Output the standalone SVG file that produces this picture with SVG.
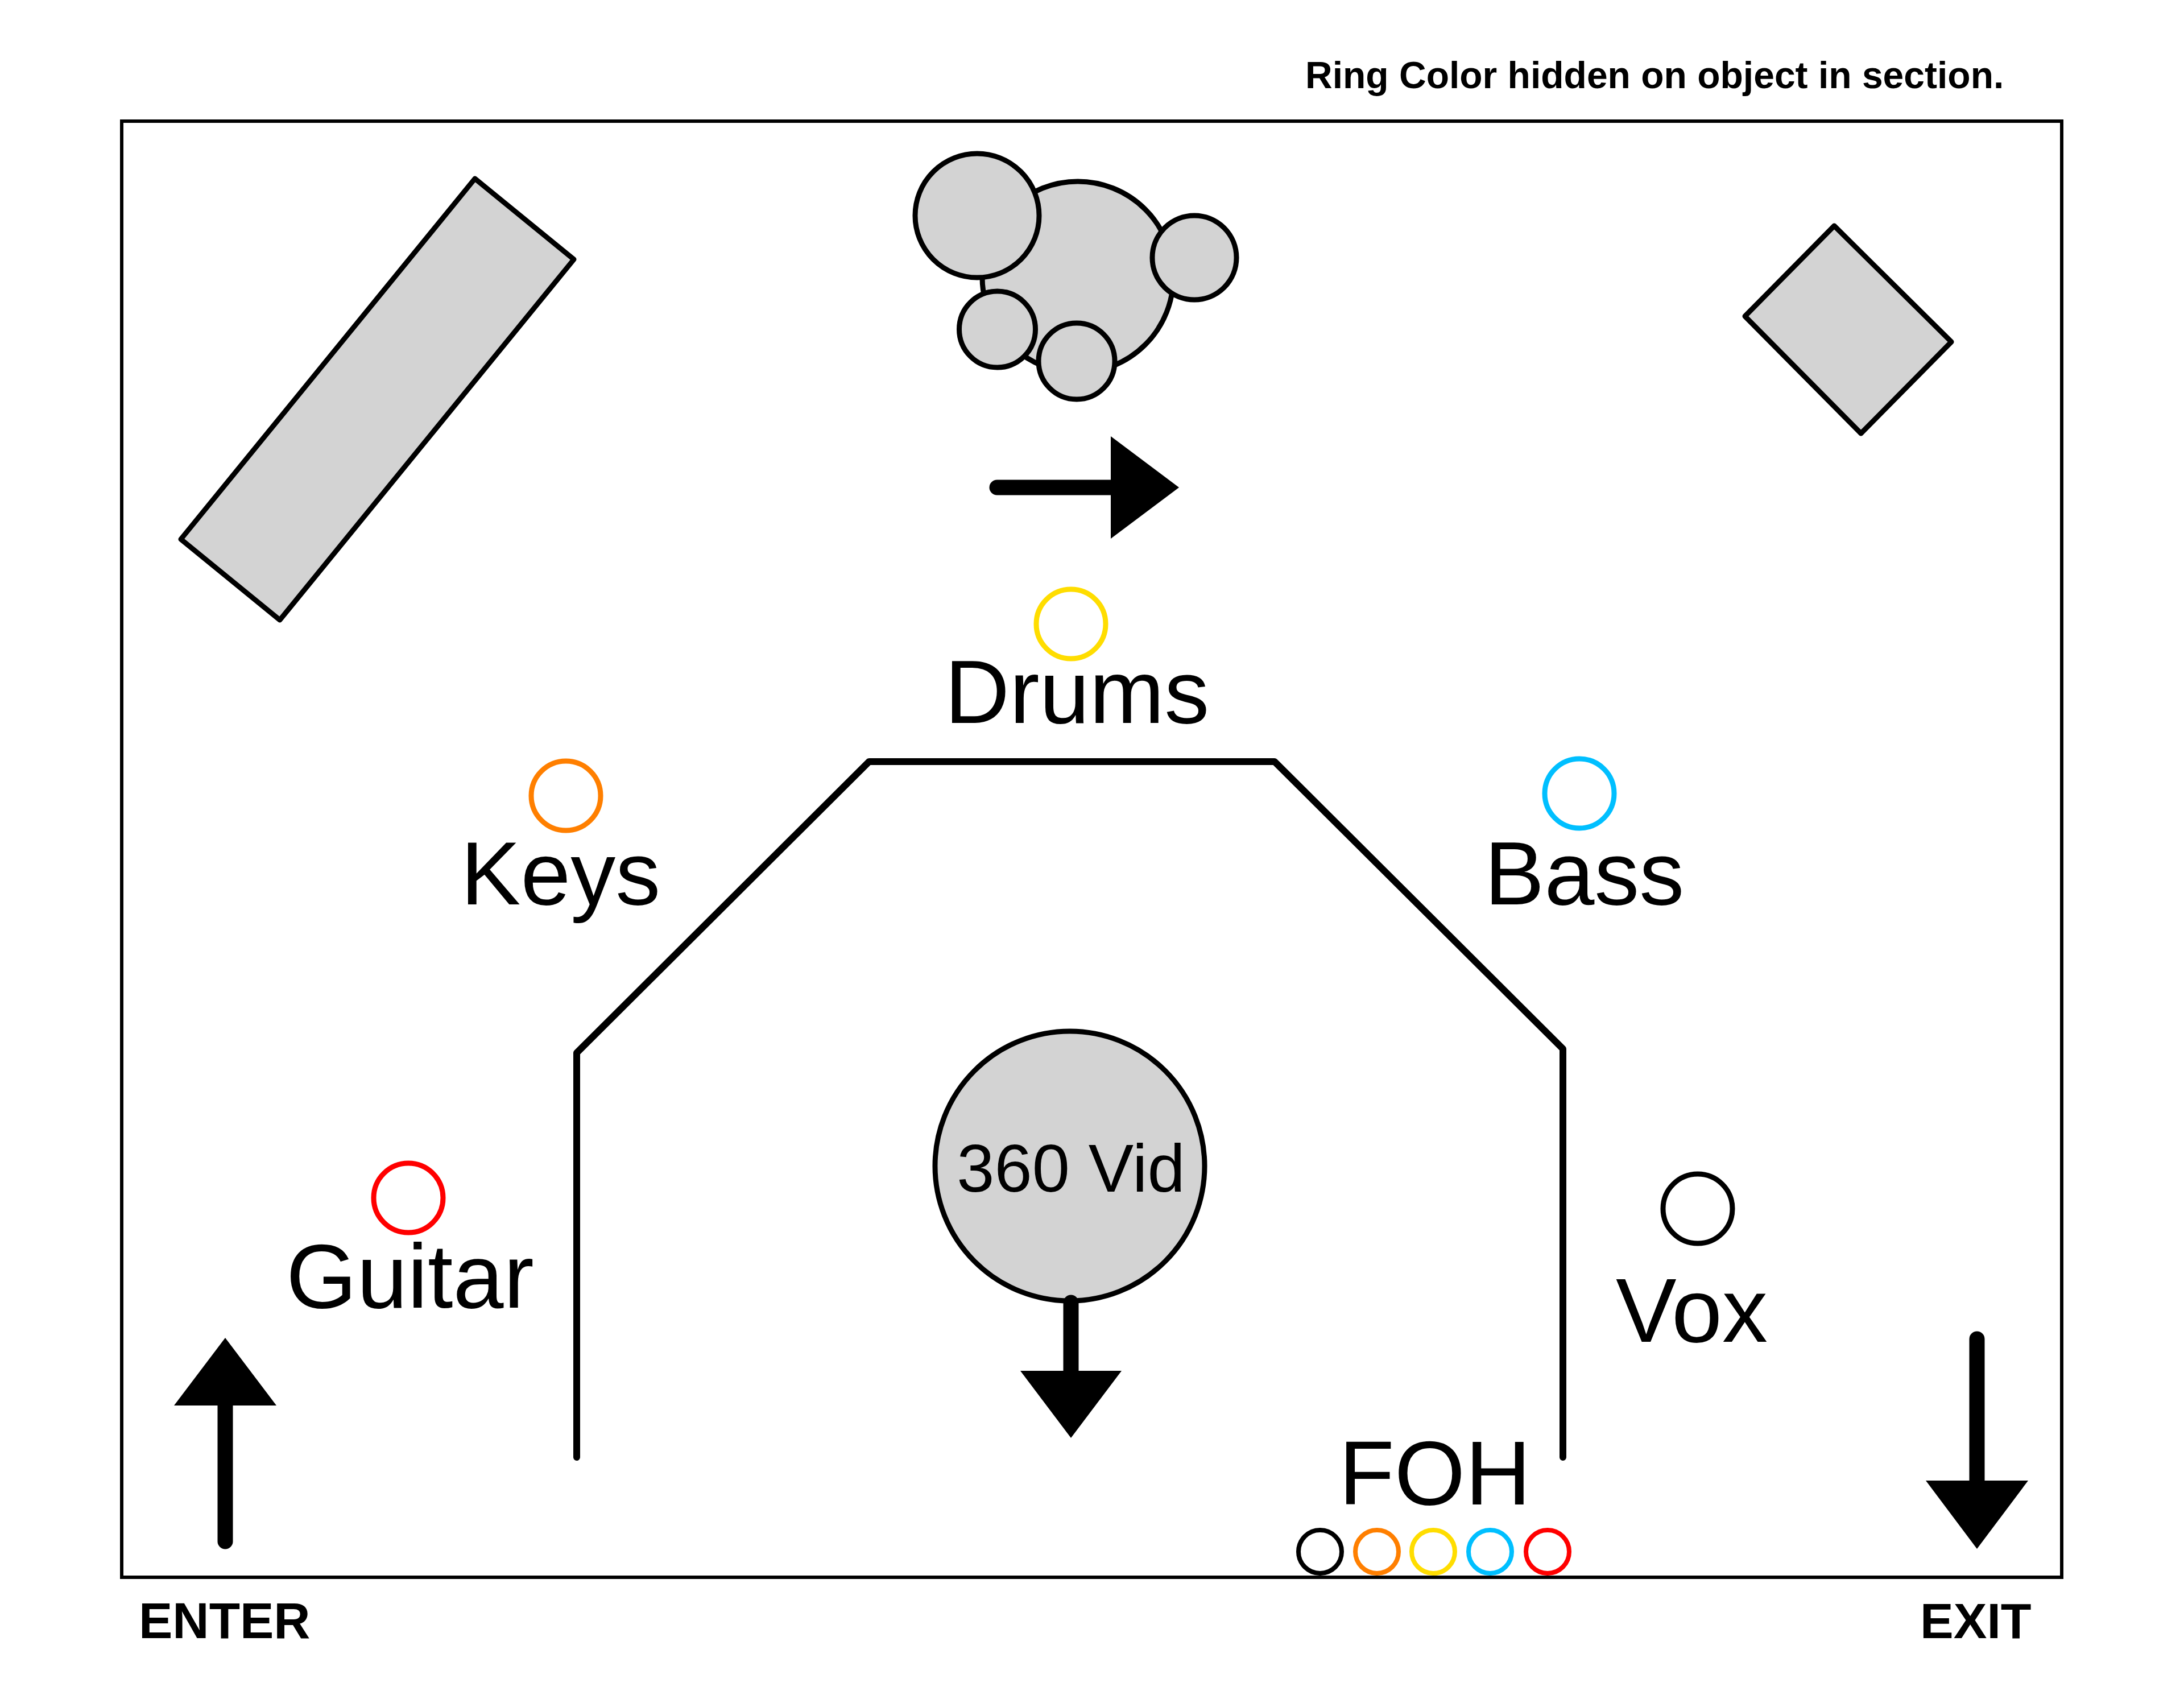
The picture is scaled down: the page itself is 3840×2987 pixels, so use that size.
<svg xmlns="http://www.w3.org/2000/svg" width="3840" height="2987" viewBox="0 0 3840 2987">
<style>
text{font-family:"Liberation Sans",Arial,sans-serif;fill:#000}
.lab{font-size:158px}
.lab2{font-size:160px}
.b{font-weight:700}
.obj{fill:#d3d3d3;stroke:#000;stroke-width:9;stroke-linejoin:round}
.ring{fill:none;stroke-width:9}
.small{fill:none;stroke-width:8}
.wall{fill:none;stroke:#000;stroke-width:12;stroke-linecap:round;stroke-linejoin:round}
.shaft{stroke:#000;stroke-width:27;stroke-linecap:round;fill:none}
.head{fill:#000;stroke:none}
</style>
<rect width="3840" height="2987" fill="#fff"/>
<rect id="frame" x="214" y="213" width="3411" height="2560" fill="none" stroke="#000" stroke-width="6"/>
<text id="note" class="b" x="2295" y="155" font-size="66">Ring Color hidden on object in section.</text>
<g id="riser-left"><polygon class="obj" points="835,314 1009,456 492,1090 318,948"/></g>
<g id="riser-right"><polygon class="obj" points="3225,397 3431,601 3272,762 3068,556"/></g>
<g id="drum-kit">
<circle class="obj" cx="1895" cy="487" r="168"/>
<circle class="obj" cx="1718" cy="379" r="109"/>
<circle class="obj" cx="2100" cy="453" r="74"/>
<circle class="obj" cx="1753.500" cy="579" r="67"/>
<circle class="obj" cx="1893" cy="635" r="67"/>
</g>
<g id="drums"><circle class="ring" stroke="#ffdd00" cx="1883" cy="1097" r="61"/><text class="lab" x="1661" y="1271">Drums</text></g>
<g id="keys"><circle class="ring" stroke="#ff7f00" cx="995" cy="1399" r="61"/><text class="lab" x="810" y="1590">Keys</text></g>
<g id="bass"><circle class="ring" stroke="#00bfff" cx="2777" cy="1395" r="61"/><text class="lab" x="2610" y="1590">Bass</text></g>
<g id="guitar"><circle class="ring" stroke="#ff0000" cx="718" cy="2106" r="61"/><text class="lab2" x="503" y="2299">Guitar</text></g>
<g id="vox"><circle class="ring" stroke="#000" cx="2985" cy="2125" r="61"/><text class="lab2" x="2841" y="2359">Vox</text></g>
<g id="video"><circle class="obj" cx="1881" cy="2050" r="237"/><text x="1883" y="2095" font-size="119" text-anchor="middle">360 Vid</text></g>
<g id="foh">
<text class="lab2" x="2354" y="2645">FOH</text>
<circle class="small" stroke="#000" cx="2321" cy="2728" r="38"/>
<circle class="small" stroke="#ff7f00" cx="2421" cy="2728" r="38"/>
<circle class="small" stroke="#ffdd00" cx="2520" cy="2728" r="38"/>
<circle class="small" stroke="#00bfff" cx="2620" cy="2728" r="38"/>
<circle class="small" stroke="#ff0000" cx="2721" cy="2728" r="38"/>
</g>
<g id="connectors">
<polyline class="wall" points="1014,2562 1014,1851 1528,1339 2241,1339 2748,1844 2748,2562"/>
<g id="arrow-drums"><line class="shaft" x1="1753" y1="857" x2="1960" y2="857"/><polygon class="head" points="1953,767 2073,857 1953,947"/></g>
<g id="arrow-video"><line class="shaft" x1="1883" y1="2290" x2="1883" y2="2420"/><polygon class="head" points="1794,2410 1972,2410 1883,2528"/></g>
<g id="arrow-enter"><line class="shaft" x1="396" y1="2710" x2="396" y2="2460"/><polygon class="head" points="396,2352 486,2471 306,2471"/></g>
<g id="arrow-exit"><line class="shaft" x1="3476" y1="2354" x2="3476" y2="2610"/><polygon class="head" points="3386,2603 3566,2603 3476,2723"/></g>
</g>
<text id="enter" class="b" x="244" y="2880" font-size="89">ENTER</text>
<text id="exit" class="b" x="3376" y="2880" font-size="88">EXIT</text>
</svg>
